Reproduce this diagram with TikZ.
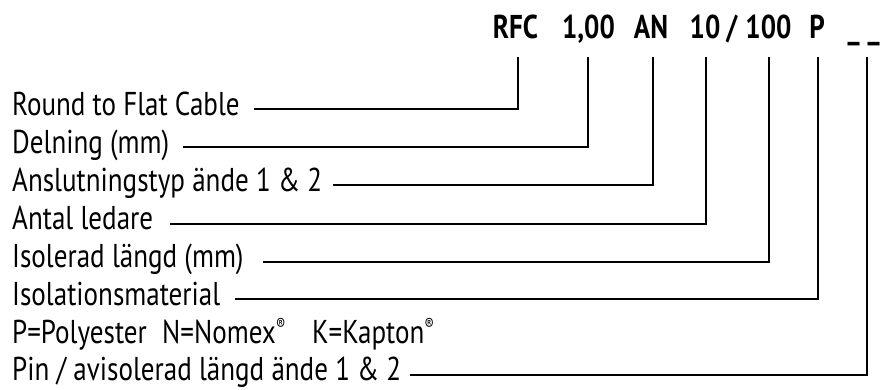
\documentclass[tikz,border=0pt]{standalone}
\usepackage{fontspec}
\setmainfont{PT Sans}
\newcommand{\sq}[1]{\scalebox{0.82}[1]{#1}}
\newcommand{\regmark}{\raisebox{0.75ex}{\fontsize{17}{17}\selectfont ®}}
\begin{document}
\begin{tikzpicture}[x=1pt,y=-1pt,
  lbl/.style={anchor=base west,inner sep=0pt,font=\fontsize{33}{33}\selectfont},
  code/.style={anchor=base,inner sep=0pt,font=\fontsize{33}{33}\selectfont\bfseries},
  conn/.style={line width=2pt,black}]
\useasboundingbox (0,0) rectangle (880,390);
% top code
\node[code] (rfc) at (515.5,39) {\sq{RFC}};
\node[code] (pitch) at (588.5,39) {\sq{1,00}};
\node[code] (an) at (651,39) {\sq{AN}};
\node[code] (ten) at (705,39) {\sq{10}};
\node[code] (slash) at (732,39) {\sq{/}};
\node[code] (hund) at (768.5,39) {\sq{100}};
\node[code] (pp) at (817,39) {\sq{P}};
\node[code] (blank1) at (853.5,39) {\sq{\_}};
\node[code] (blank2) at (873.5,39) {\sq{\_}};
% labels
\node[lbl] (l1) at (12,116) {\sq{Round to Flat Cable}};
\node[lbl] (l2) at (12,154) {\sq{Delning (mm)}};
\node[lbl] (l3) at (12,192) {\sq{Anslutningstyp ände 1 \& 2}};
\node[lbl] (l4) at (12,229.5) {\sq{Antal ledare}};
\node[lbl] (l5) at (12,267) {\sq{Isolerad längd (mm)}};
\node[lbl] (l6) at (12,305) {\sq{Isolationsmaterial}};
\node[lbl] (l7a) at (12,343) {\sq{P=Polyester}};
\node[lbl] (l7b) at (162,343) {\sq{N=Nomex\regmark}};
\node[lbl] (l7c) at (312,343) {\sq{K=Kapton\regmark}};
\node[lbl] (l8) at (12,380.5) {\sq{Pin / avisolerad längd ände 1 \& 2}};
% connector ends
\coordinate (t1) at (517.5,57);
\coordinate (t2) at (588,57);
\coordinate (t3) at (653,57);
\coordinate (t4) at (706,57);
\coordinate (t5) at (769,57);
\coordinate (t6) at (818,57);
\coordinate (t8) at (867,57);
\coordinate (s1) at (254,109);
\coordinate (s2) at (183,147);
\coordinate (s3) at (333,185);
\coordinate (s4) at (170,224);
\coordinate (s5) at (263,262);
\coordinate (s6) at (235,299);
\coordinate (s8) at (410,374.5);
\draw[conn] (s1) -| (t1);
\draw[conn] (s2) -| (t2);
\draw[conn] (s3) -| (t3);
\draw[conn] (s4) -| (t4);
\draw[conn] (s5) -| (t5);
\draw[conn] (s6) -| (t6);
\draw[conn] (s8) -| (t8);
\end{tikzpicture}
\end{document}
